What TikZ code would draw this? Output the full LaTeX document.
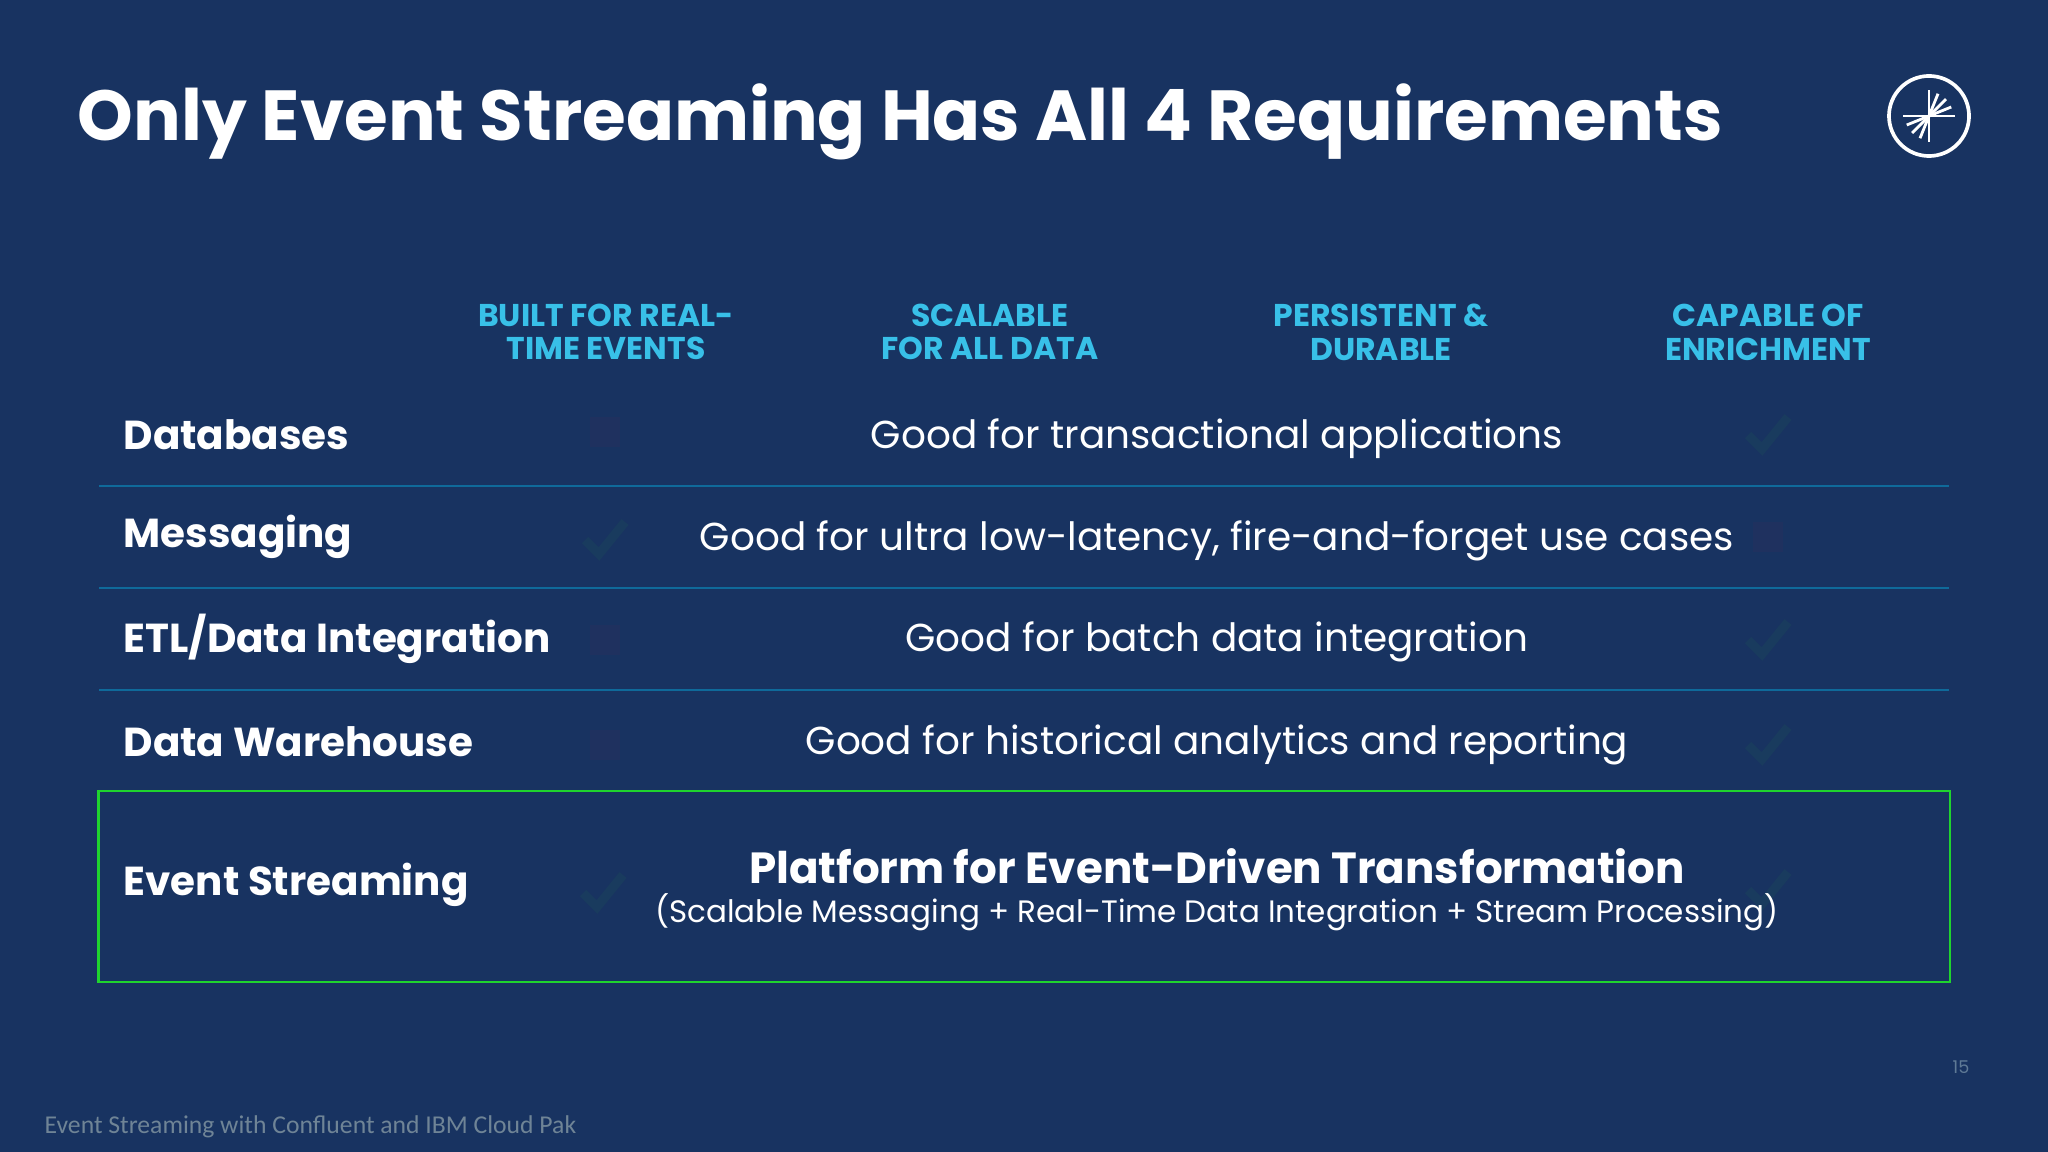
\documentclass[tikz,border=0pt]{standalone}
\usepackage{fontspec}
\setmainfont{Poppins}
\newfontfamily\footfont{Carlito}
\definecolor{slidebg}{HTML}{183361}
\definecolor{headcol}{HTML}{38C0E8}
\definecolor{rulecol}{HTML}{0F6A9A}
\definecolor{boxcol}{HTML}{1FD42E}
\definecolor{footcol}{HTML}{6F8496}
\definecolor{numcol}{HTML}{5F7A96}
\definecolor{faintchk}{HTML}{193B5E}
\definecolor{faintsq}{HTML}{1F315F}
\tikzset{
  headlab/.style={text=headcol,font=\fontsize{8.95}{9.6}\selectfont\bfseries,align=center,inner sep=0pt},
  rowlab/.style={text=white,font=\fontsize{11.5}{13}\selectfont\bfseries,anchor=west,inner sep=0pt},
  rowtxt/.style={text=white,font=\fontsize{11.08}{13}\selectfont,inner sep=0pt},
  rowrule/.style={rulecol,line width=0.55pt},
  chkmark/.style={faintchk,line width=2.6pt},
  sqmark/.style={fill=faintsq,minimum size=0.3cm,inner sep=0pt}
}
\begin{document}
\begin{tikzpicture}[x=0.01cm,y=-0.01cm]
\fill[slidebg] (0,0) rectangle (2048,1152);
\useasboundingbox (0,0) rectangle (2048,1152);
% title and logo
\node[text=white,font=\fontsize{20.15}{22}\selectfont\bfseries,anchor=west,inner sep=0pt] (title) at (77,122) {Only Event Streaming Has All 4 Requirements};
\node[circle,draw=white,line width=1.05pt,minimum size=0.8cm,inner sep=0pt] (logo) at (1929,116) {};
\foreach \ang/\len in {0/26,90/26,180/26,270/26,112/24,135/24,158/24,-22/24,-45/24,-68/24}
  \draw[white,line width=0.8pt] (logo.center) -- ++(\ang:\len);
% column heads
\node[headlab] (headA) at (606,332) {BUILT FOR REAL-\\TIME EVENTS};
\node[headlab] (headB) at (990,332) {SCALABLE\\FOR ALL DATA};
\node[headlab] (headC) at (1381,332) {PERSISTENT \&\\DURABLE};
\node[headlab] (headD) at (1768,332) {CAPABLE OF\\ENRICHMENT};
% faint marks under the text
\node[sqmark] (sqA) at (605,432) {};
\node[sqmark] (sqB) at (1768,537) {};
\node[sqmark] (sqC) at (605,640) {};
\node[sqmark] (sqD) at (605,745) {};
\foreach \px/\py in {1768/435,605/540,1768/640,1768/745,603/893,1768/890}
  \draw[chkmark] (\px-20,\py) -- (\px-6,\py+14) -- (\px+20,\py-18);
% rows
\node[rowlab] (rowA) at (123,435) {Databases};
\node[rowlab] (rowB) at (123,537) {Messaging};
\node[rowlab] (rowC) at (123,639) {ETL/Data Integration};
\node[rowlab] (rowD) at (123,742) {Data Warehouse};
\node[rowlab] (rowE) at (123,885) {Event Streaming};
\node[rowtxt] (txtA) at (1217,439) {Good for transactional applications};
\node[rowtxt] (txtB) at (1217,541) {Good for ultra low-latency, fire-and-forget use cases};
\node[rowtxt] (txtC) at (1217,642) {Good for batch data integration};
\node[rowtxt] (txtD) at (1217,745) {Good for historical analytics and reporting};
\node[rowtxt,font=\fontsize{12.4}{14}\selectfont\bfseries] (txtE) at (1217,866) {Platform for Event-Driven Transformation};
\node[rowtxt,font=\fontsize{8.8}{11}\selectfont] (subE) at (1217,912) {(Scalable Messaging + Real-Time Data Integration + Stream Processing)};
% rules and box
\coordinate (ruleL) at (99,486);
\coordinate (ruleR) at (1949,486);
\draw[rowrule] (ruleL) -- (ruleR);
\draw[rowrule] (99,588) -- (1949,588);
\draw[rowrule] (99,690) -- (1949,690);
\node[draw=boxcol,line width=0.6pt,minimum width=18.5cm,minimum height=1.91cm,inner sep=0pt] (boxE) at (1024,886.5) {};
% footer
\node[text=numcol,font=\fontsize{5}{6}\selectfont,inner sep=0pt] (pageno) at (1961,1067) {15};
\node[text=footcol,font=\footfont\fontsize{7.3}{8}\selectfont,anchor=west,inner sep=0pt] (foot) at (44,1127) {Event Streaming with Confluent and IBM Cloud Pak};
\end{tikzpicture}
\end{document}
